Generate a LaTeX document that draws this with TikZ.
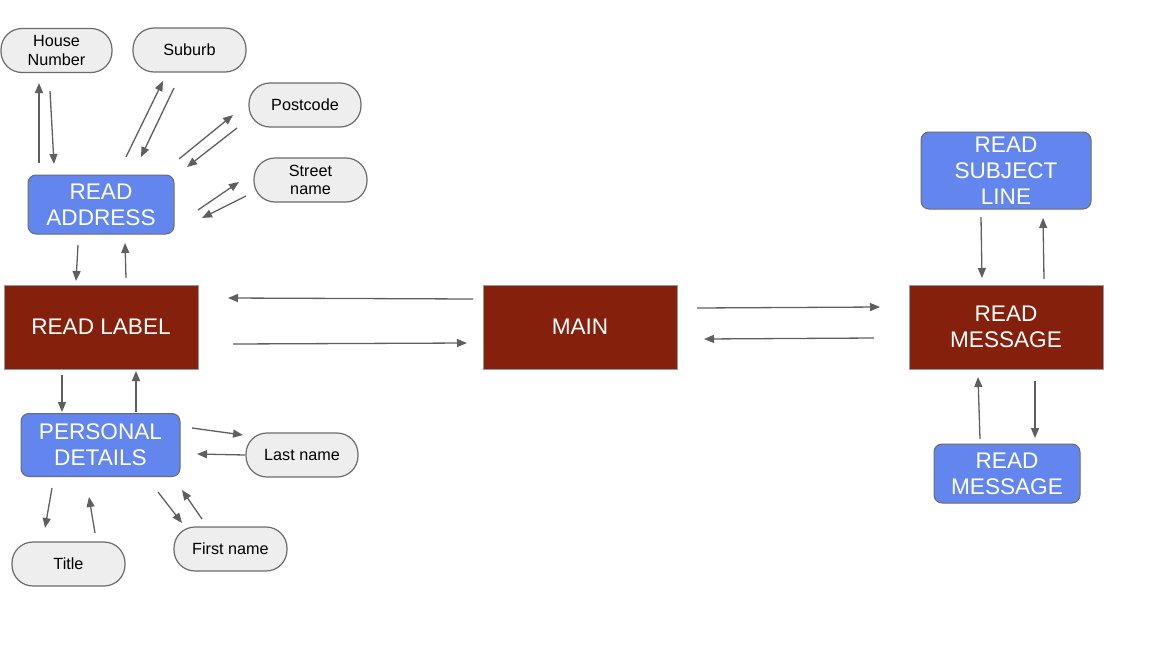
\documentclass[tikz,border=0pt]{standalone}
\usepackage{fontspec}
\setmainfont{Liberation Sans}
\usetikzlibrary{arrows.meta}
\definecolor{berry}{HTML}{85200C}
\definecolor{cblue}{HTML}{6286EE}
\definecolor{pillfill}{HTML}{EEEEEE}
\definecolor{pillline}{HTML}{6B6B6B}
\definecolor{arrcol}{HTML}{5F5F5F}
\tikzset{
  pill/.style={draw=pillline, line width=1.2pt, fill=pillfill, rounded corners=21pt,
    minimum height=44pt, inner sep=0pt, align=center, text=black,
    font=\fontsize{16.2}{18.8}\selectfont},
  bluebox/.style={draw=pillline, line width=1pt, fill=cblue, rounded corners=8pt,
    inner sep=0pt, align=center, text=white, font=\fontsize{22.6}{26}\selectfont},
  redbox/.style={draw=gray!80, line width=1pt, fill=berry, minimum width=194pt,
    minimum height=84pt, inner sep=0pt, align=center, text=white,
    font=\fontsize{22.6}{26}\selectfont},
  arr/.style={draw=arrcol, line width=1.3pt, -{Triangle[length=10pt,width=8pt]}}
}
\begin{document}
\begin{tikzpicture}[x=1pt,y=-1pt]
\useasboundingbox (0,0) rectangle (1161,653);
% nodes
\node[pill, minimum width=111pt] (hn) at (56.5,50.5) {House\\Number};
\node[pill, minimum width=113pt] (sub) at (189.5,50) {Suburb};
\node[pill, minimum width=112pt] (pc) at (305,105) {Postcode};
\node[pill, minimum width=113pt] (st) at (310.5,180) {Street\\name};
\node[bluebox, minimum width=146pt, minimum height=59pt] (ra) at (101,204.5) {READ\\ADDRESS};
\node[redbox] (rl) at (101,327) {READ LABEL};
\node[redbox] (main) at (580,327) {MAIN};
\node[redbox] (rm) at (1006,327) {READ\\MESSAGE};
\node[bluebox, minimum width=170pt, minimum height=77pt] (rs) at (1006,170.5) {READ\\SUBJECT\\LINE};
\node[bluebox, minimum width=146pt, minimum height=59pt] (rmb) at (1007,473.5) {READ\\MESSAGE};
\node[bluebox, minimum width=159pt, minimum height=63pt] (pd) at (100.5,445) {PERSONAL\\DETAILS};
\node[pill, minimum width=112pt] (ln) at (302,455) {Last name};
\node[pill, minimum width=113pt] (ti) at (68.5,564) {Title};
\node[pill, minimum width=113pt] (fn) at (230.5,549) {First name};
% connector end points
\coordinate (hnA) at (39,163); \coordinate (hnB) at (39,83);
\coordinate (hnC) at (50,91);  \coordinate (hnD) at (54,164);
\coordinate (suA) at (126,157); \coordinate (suB) at (163,81);
\coordinate (suC) at (174,88);  \coordinate (suD) at (141,157);
\coordinate (pcA) at (179,159); \coordinate (pcB) at (233,115);
\coordinate (pcC) at (237,128); \coordinate (pcD) at (187,167);
\coordinate (stA) at (198,210); \coordinate (stB) at (239,182);
\coordinate (stC) at (246,196); \coordinate (stD) at (202,218);
\coordinate (raA) at (78,245);  \coordinate (raB) at (76,281);
\coordinate (raC) at (126,278); \coordinate (raD) at (125,243);
\coordinate (pdA) at (62,375);  \coordinate (pdB) at (62,412);
\coordinate (pdC) at (136,412); \coordinate (pdD) at (136,371);
\coordinate (lnA) at (192,428); \coordinate (lnB) at (243,435);
\coordinate (lnC) at (245,455); \coordinate (lnD) at (197,454);
\coordinate (tiA) at (52,488);  \coordinate (tiB) at (45,528);
\coordinate (tiC) at (95,533);  \coordinate (tiD) at (89,497);
\coordinate (fnA) at (158,492); \coordinate (fnB) at (182,523);
\coordinate (fnC) at (202,519); \coordinate (fnD) at (182,490);
\coordinate (mlA) at (473,299); \coordinate (mlB) at (228,298);
\coordinate (mlC) at (233,344); \coordinate (mlD) at (467,343);
\coordinate (mmA) at (697,308); \coordinate (mmB) at (880,307);
\coordinate (mmC) at (874,338); \coordinate (mmD) at (704,339);
\coordinate (rsA) at (981,217); \coordinate (rsB) at (982,278);
\coordinate (rsC) at (1044,279); \coordinate (rsD) at (1043,218);
\coordinate (rbA) at (980,439); \coordinate (rbB) at (978,377);
\coordinate (rbC) at (1035,381); \coordinate (rbD) at (1035,438);
% connectors
\foreach \p in {hn,su,pc,st,ra,pd,ln,ti,fn,ml,mm,rs,rb}{
  \draw[arr] (\p A) -- (\p B);
  \draw[arr] (\p C) -- (\p D);
}
\end{tikzpicture}
\end{document}
